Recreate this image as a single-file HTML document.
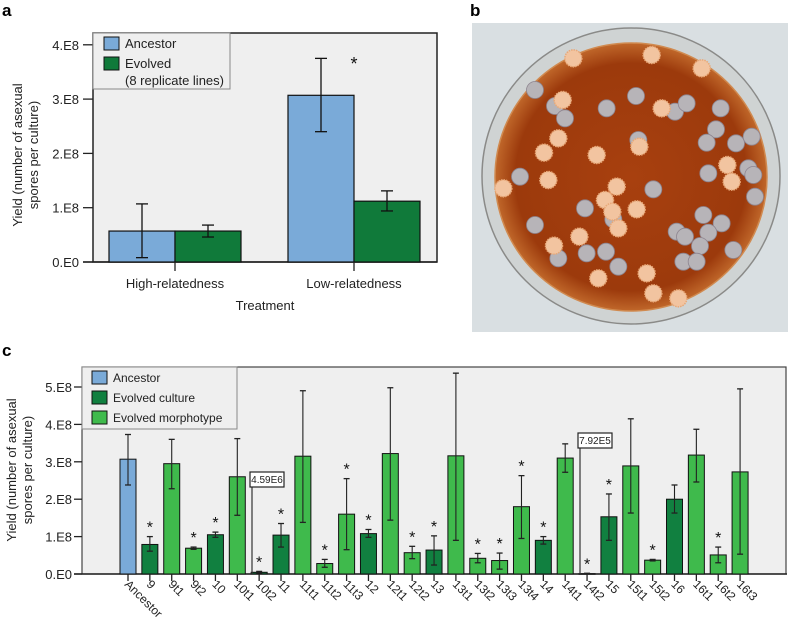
<!DOCTYPE html>
<html><head><meta charset="utf-8"><style>
html,body{margin:0;padding:0;background:#fff;}
body{width:788px;height:633px;overflow:hidden;font-family:"Liberation Sans",Arial,sans-serif;}
svg text{font-family:"Liberation Sans",Arial,sans-serif;}
</style></head><body>
<svg id="fig" width="788" height="633" xmlns="http://www.w3.org/2000/svg">
<text x="2" y="16" font-size="17" font-weight="bold">a</text>
<text x="470" y="16" font-size="17" font-weight="bold">b</text>
<text x="2" y="356" font-size="17" font-weight="bold">c</text>
<g id="pa"></g>
<g id="pb"></g>
<g id="pc"></g>
</svg>
<script>
// ---------- Panel a data ----------
const aCategories = ["High-relatedness","Low-relatedness"];
const aAncestor = [0.57, 3.07];
const aAncestorLo = [0.08, 2.40];
const aAncestorHi = [1.07, 3.75];
const aEvolved = [0.57, 1.12];
const aEvolvedLo = [0.46, 0.94];
const aEvolvedHi = [0.68, 1.31];
const aTicks = ["0.E0","1.E8","2.E8","3.E8","4.E8"];

// ---------- Panel c data ----------
const cCategories = ["Ancestor","9","9t1","9t2","10","10t1","10t2","11","11t1","11t2","11t3","12","12t1","12t2","13","13t1","13t2","13t3","13t4","14","14t1","14t2","15","15t1","15t2","16","16t1","16t2","16t3"];
const cValues = [3.07,0.79,2.95,0.69,1.05,2.60,0.046,1.04,3.15,0.28,1.60,1.08,3.22,0.57,0.64,3.16,0.42,0.36,1.80,0.90,3.10,0.008,1.53,2.89,0.37,2.00,3.18,0.51,2.73];
const cLo = [2.38,0.61,2.28,0.66,0.98,1.57,0.03,0.72,1.38,0.18,0.65,0.98,1.44,0.41,0.24,0.90,0.30,0.13,0.95,0.80,2.72,0.0,0.90,1.63,0.35,1.63,2.46,0.30,0.53];
const cHi = [3.73,1.00,3.60,0.72,1.12,3.62,0.07,1.35,4.90,0.39,2.55,1.19,4.98,0.74,1.02,5.37,0.55,0.56,2.63,1.00,3.48,0.02,2.14,4.15,0.39,2.38,3.87,0.72,4.95];
const cType = ["a","c","m","m","c","m","c","c","m","m","m","c","m","m","c","m","m","m","m","c","m","c","c","m","m","c","m","m","m"];
const cStar = [0,1,0,1,1,0,1,1,0,1,1,1,0,1,1,0,1,1,1,1,0,1,1,0,1,0,0,1,0];
const cTicks = ["0.E0","1.E8","2.E8","3.E8","4.E8","5.E8"];

const NS="http://www.w3.org/2000/svg";
function mk(parent,tag,attrs,txt){const e=document.createElementNS(NS,tag);for(const k in attrs)e.setAttribute(k,attrs[k]);if(txt!==undefined)e.textContent=txt;parent.appendChild(e);return e;}

// ===== Panel a =====
(function(){
const g=document.getElementById('pa');
const L=93,R=437,T=33,B=262;
const y=v=>B-v*54.3;
const bg=mk(g,'rect',{x:L,y:T,width:R-L,height:B-T,fill:'#efefef',stroke:'#222','stroke-width':1.5});


aTicks.forEach((t,i)=>{
  mk(g,'line',{x1:83,x2:L,y1:y(i),y2:y(i),stroke:'#222','stroke-width':1.3});
  const tx=mk(g,'text',{x:79,y:y(i)+5,'font-size':13,'text-anchor':'end',fill:'#222'},t);
  
  
});
mk(g,'line',{x1:83,x2:R,y1:B,y2:B,stroke:'#222','stroke-width':1.5});
const centers=[175,354], bw=66;
aCategories.forEach((c,i)=>{
  const cx=centers[i];
  const b1=mk(g,'rect',{x:cx-bw,y:y(aAncestor[i]),width:bw,height:B-y(aAncestor[i]),fill:'#7aaad8',stroke:'#111','stroke-width':1.2});
  
  
  const b2=mk(g,'rect',{x:cx,y:y(aEvolved[i]),width:bw,height:B-y(aEvolved[i]),fill:'#107a3a',stroke:'#111','stroke-width':1.2});
  
  
  [[cx-bw/2,aAncestorLo[i],aAncestorHi[i]],[cx+bw/2,aEvolvedLo[i],aEvolvedHi[i]]].forEach(([ex,lo,hi])=>{
    mk(g,'line',{x1:ex,x2:ex,y1:y(lo),y2:y(hi),stroke:'#111','stroke-width':1.3});
    mk(g,'line',{x1:ex-6,x2:ex+6,y1:y(lo),y2:y(lo),stroke:'#111','stroke-width':1.3});
    mk(g,'line',{x1:ex-6,x2:ex+6,y1:y(hi),y2:y(hi),stroke:'#111','stroke-width':1.3});
  });
  mk(g,'line',{x1:cx,x2:cx,y1:B,y2:B+9,stroke:'#222','stroke-width':1.3});
  const lb=mk(g,'text',{x:cx,y:288,'font-size':13,'text-anchor':'middle',fill:'#222'},c);
  
  
});
const st=mk(g,'text',{x:354,y:70,'font-size':18,'text-anchor':'middle',fill:'#111'},'*');


const xt=mk(g,'text',{x:265,y:310,'font-size':13,'text-anchor':'middle',fill:'#222'},'Treatment');


const yt=mk(g,'text',{transform:'translate(22,155) rotate(-90)','font-size':13,'text-anchor':'middle',fill:'#222'});


mk(yt,'tspan',{x:0,dy:0},'Yield (number of asexual');
mk(yt,'tspan',{x:0,dy:16},'spores per culture)');
const lg=mk(g,'g',{});


mk(lg,'rect',{x:L,y:T,width:137,height:56,fill:'#efefef',stroke:'#888','stroke-width':1});
mk(lg,'rect',{x:104,y:37,width:15,height:13,fill:'#7aaad8',stroke:'#111'});
mk(lg,'text',{x:125,y:48,'font-size':13,fill:'#222'},'Ancestor');
mk(lg,'rect',{x:104,y:57,width:15,height:13,fill:'#107a3a',stroke:'#111'});
mk(lg,'text',{x:125,y:68,'font-size':13,fill:'#222'},'Evolved');
mk(lg,'text',{x:125,y:85,'font-size':13,fill:'#222'},'(8 replicate lines)');
})();

// ===== Panel b (photo illustration) =====
(function(){
const g=document.getElementById('pb');
const grey=[[285,270],[345,318],[375,355],[500,325],[588,288],[705,335],[740,310],[842,325],[828,388],[800,428],[888,430],[935,410],[805,520],[925,505],[940,525],[945,590],[240,530],[640,568],[435,625],[520,658],[285,675],[790,645],[845,670],[805,698],[710,695],[735,710],[780,738],[880,750],[440,760],[498,755],[535,800],[355,775],[730,785],[770,785],[595,420]];
const orange=[[400,175],[635,165],[785,205],[368,300],[665,325],[355,415],[312,458],[470,465],[598,440],[190,565],[325,540],[530,560],[495,600],[517,635],[590,628],[535,685],[418,710],[342,737],[862,495],[875,545],[475,835],[620,820],[640,880],[715,895]];
const defs=mk(g,'defs',{});
const rg=mk(defs,'radialGradient',{id:'agar',cx:'50%',cy:'50%',r:'50%'});
mk(rg,'stop',{offset:'0%','stop-color':'#a8400f'});
mk(rg,'stop',{offset:'85%','stop-color':'#9c3a0c'});
mk(rg,'stop',{offset:'100%','stop-color':'#c0672a'});
const bg=mk(g,'rect',{x:472,y:23,width:316,height:309,fill:'#d9dfe2'});


const dish=mk(g,'ellipse',{cx:631,cy:176,rx:149,ry:148,fill:'#cfd3d3',stroke:'#8a8a88','stroke-width':1.5});


const agar=mk(g,'ellipse',{cx:631,cy:177,rx:136,ry:134,fill:'url(#agar)',stroke:'#d08a50','stroke-width':1.5});


grey.forEach(p=>{const c=mk(g,'circle',{cx:440+p[0]/3,cy:p[1]/3,r:8.5,fill:'#b7b4b8',stroke:'#8e8590','stroke-width':0.8});

});
orange.forEach(p=>{const c=mk(g,'circle',{cx:440+p[0]/3,cy:p[1]/3,r:8.5,fill:'#f2c4a0',stroke:'#e8a878','stroke-width':1.5,'stroke-dasharray':'1.5 1'});

});
})();

// ===== Panel c =====
(function(){
const g=document.getElementById('pc');
const L=82,R=787,T=367,B=574;
const y=v=>B-v*37.4;
const x=i=>128+i*21.86;
const bw=16;
const colors={a:'#7aaad8',c:'#118040',m:'#3fba4c'};
const bg=mk(g,'rect',{x:L,y:T,width:R-L-1,height:B-T,fill:'#efefef',stroke:'#444','stroke-width':1.2});


cTicks.forEach((t,i)=>{
  mk(g,'line',{x1:74,x2:L,y1:y(i),y2:y(i),stroke:'#222','stroke-width':1.3});
  const tx=mk(g,'text',{x:72,y:y(i)+5,'font-size':13,'text-anchor':'end',fill:'#222'},t);
  
  
});
mk(g,'line',{x1:74,x2:R,y1:B,y2:B,stroke:'#222','stroke-width':1.5});
cCategories.forEach((c,i)=>{
  const cx=x(i), v=cValues[i];
  const b=mk(g,'rect',{x:cx-bw/2,y:y(v),width:bw,height:Math.max(B-y(v),0.5),fill:colors[cType[i]],stroke:'#111','stroke-width':1});
  
  
  const lo=y(cLo[i]), hi=y(cHi[i]);
  mk(g,'line',{x1:cx,x2:cx,y1:lo,y2:hi,stroke:'#222','stroke-width':1.1});
  mk(g,'line',{x1:cx-3,x2:cx+3,y1:lo,y2:lo,stroke:'#222','stroke-width':1.3});
  mk(g,'line',{x1:cx-3,x2:cx+3,y1:hi,y2:hi,stroke:'#222','stroke-width':1.3});
  if(cStar[i]){
    const s=mk(g,'text',{x:cx,y:hi-4,'font-size':16,'text-anchor':'middle',fill:'#111'},'*');
    
    
  }
  mk(g,'line',{x1:cx,x2:cx,y1:B,y2:B+7,stroke:'#222','stroke-width':1.3});
  const lb=mk(g,'text',{transform:'translate('+(cx-4)+','+(B+11)+') rotate(45)','font-size':12,fill:'#222'},c);
  
  
});
// callouts
[[6,'4.59E6',250,472],[21,'7.92E5',578,433]].forEach(([i,t,bx,by])=>{
  const cg=mk(g,'g',{});
  
  
  mk(cg,'line',{x1:bx+2,x2:bx+2,y1:by+14,y2:B,stroke:'#333','stroke-width':1.2});
  mk(cg,'rect',{x:bx,y:by,width:34,height:15,fill:'#fff',stroke:'#222','stroke-width':1.2});
  mk(cg,'text',{x:bx+17,y:by+11,'font-size':10,'text-anchor':'middle',fill:'#222'},t);
});
const yt=mk(g,'text',{transform:'translate(16,470) rotate(-90)','font-size':13,'text-anchor':'middle',fill:'#222'});


mk(yt,'tspan',{x:0,dy:0},'Yield (number of asexual');
mk(yt,'tspan',{x:0,dy:16},'spores per culture)');
const lg=mk(g,'g',{});


mk(lg,'rect',{x:L,y:T,width:155,height:62,fill:'#efefef',stroke:'#888','stroke-width':1});
[['Ancestor','a',371],['Evolved culture','c',391],['Evolved morphotype','m',411]].forEach(([t,k,yy])=>{
  mk(lg,'rect',{x:92,y:yy,width:15,height:13,fill:colors[k],stroke:'#111'});
  mk(lg,'text',{x:113,y:yy+11,'font-size':12,fill:'#222'},t);
});
})();
</script>
</body></html>
